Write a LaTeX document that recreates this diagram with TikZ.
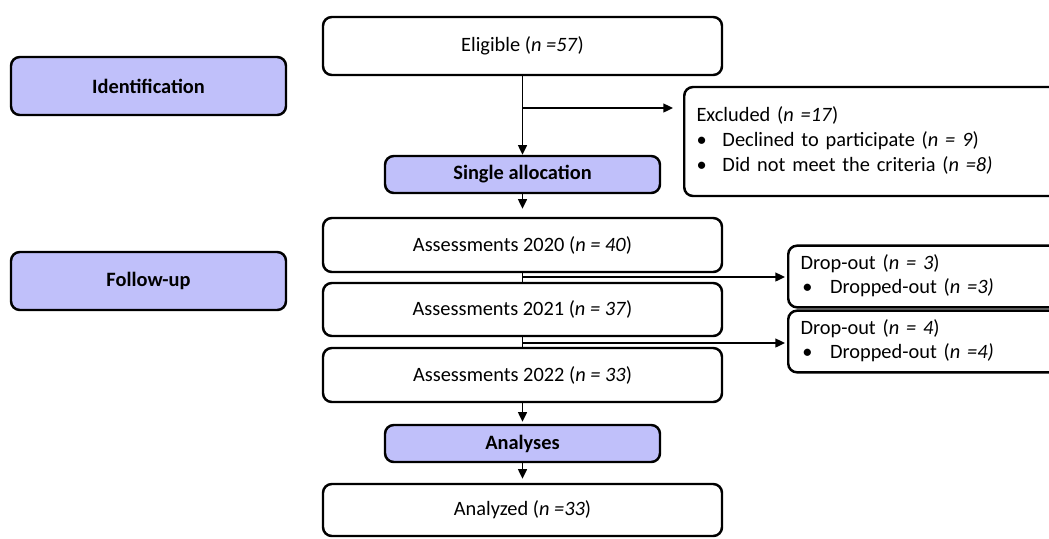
\documentclass[tikz,border=0pt]{standalone}
\usepackage{fontspec}
\setmainfont{Carlito}
\usepackage{tikz}
\usetikzlibrary{arrows.meta}

\definecolor{phasefill}{RGB}{192,192,250}

\tikzset{
	stagebox/.style={draw, line width=1.4pt, rounded corners=5pt, fill=white, minimum width=7.98cm, minimum height=1.08cm, font=\fontsize{11.6}{14.2}\selectfont},
	phasebox/.style={stagebox, fill=phasefill, minimum width=5.5cm, font=\fontsize{11.6}{14.2}\selectfont\bfseries},
	sidebox/.style={stagebox, anchor=west, align=left, inner xsep=7pt, text width=7.6cm},
	flowline/.style={line width=1.1pt},
	flowarrow/.style={flowline, -{Triangle[length=5.5pt,width=5pt]}}
}

\begin{document}
\begin{tikzpicture}
	\clip (0,0) rectangle (20.98,-10.76);
	\node[phasebox, minimum height=1.16cm] (ident) at (2.97,-1.72) {Identification};
	\node[phasebox, minimum height=1.16cm] (follow) at (2.97,-5.62) {Follow-up};
	\node[stagebox, minimum height=1.16cm] (elig) at (10.45,-0.92) {Eligible (\textit{n =57})};
	\node[phasebox, minimum height=0.74cm] (single) at (10.45,-3.49) {Single allocation};
	\node[sidebox, minimum height=2.18cm] (excl) at (13.66,-2.83) {\begin{tabular}{@{}l@{}}
		Excluded (\textit{n =17})\\
		\textbullet\hspace{9pt}Declined to participate (\textit{n = 9})\\
		\textbullet\hspace{9pt}Did not meet the criteria (\textit{n =8)}
	\end{tabular}};
	\node[stagebox] (a2020) at (10.45,-4.90) {Assessments 2020 (\textit{n = 40})};
	\node[stagebox, minimum height=1.06cm] (a2021) at (10.45,-6.19) {Assessments 2021 (\textit{n = 37})};
	\node[stagebox] (a2022) at (10.45,-7.50) {Assessments 2022 (\textit{n = 33})};
	\node[sidebox, minimum height=1.06cm] (drop1) at (15.74,-5.53) {\begin{tabular}{@{}l@{}}
		Drop-out (\textit{n = 3})\\
		\hspace{1pt}\textbullet\hspace{10pt}Dropped-out (\textit{n =3)}
	\end{tabular}};
	\node[sidebox, minimum height=1.06cm] (drop2) at (15.74,-6.83) {\begin{tabular}{@{}l@{}}
		Drop-out (\textit{n = 4})\\
		\hspace{1pt}\textbullet\hspace{10pt}Dropped-out (\textit{n =4)}
	\end{tabular}};
	\node[phasebox, minimum height=0.74cm] (analyses) at (10.45,-8.87) {Analyses};
	\node[stagebox, minimum height=1.04cm] (analyzed) at (10.45,-10.20) {Analyzed (\textit{n =33})};
	\coordinate (br1) at (10.45,-2.16);
	\coordinate (br2) at (10.45,-5.54);
	\coordinate (br3) at (10.45,-6.86);
	\draw[flowarrow] (elig.south) -- (single.north);
	\draw[flowarrow, shorten >=0.2cm] (br1) -- (br1 -| excl.west);
	\draw[flowarrow, shorten >=0.16cm] (single.south) -- (a2020.north);
	\draw[flowline] (a2020.south) -- (a2021.north);
	\draw[flowarrow, shorten >=0.04cm] (br2) -- (br2 -| drop1.west);
	\draw[flowline] (a2021.south) -- (a2022.north);
	\draw[flowarrow, shorten >=0.04cm] (br3) -- (br3 -| drop2.west);
	\draw[flowarrow, shorten >=0.04cm] (a2022.south) -- (analyses.north);
	\draw[flowarrow, shorten >=0.08cm] (analyses.south) -- (analyzed.north);
\end{tikzpicture}
\end{document}
